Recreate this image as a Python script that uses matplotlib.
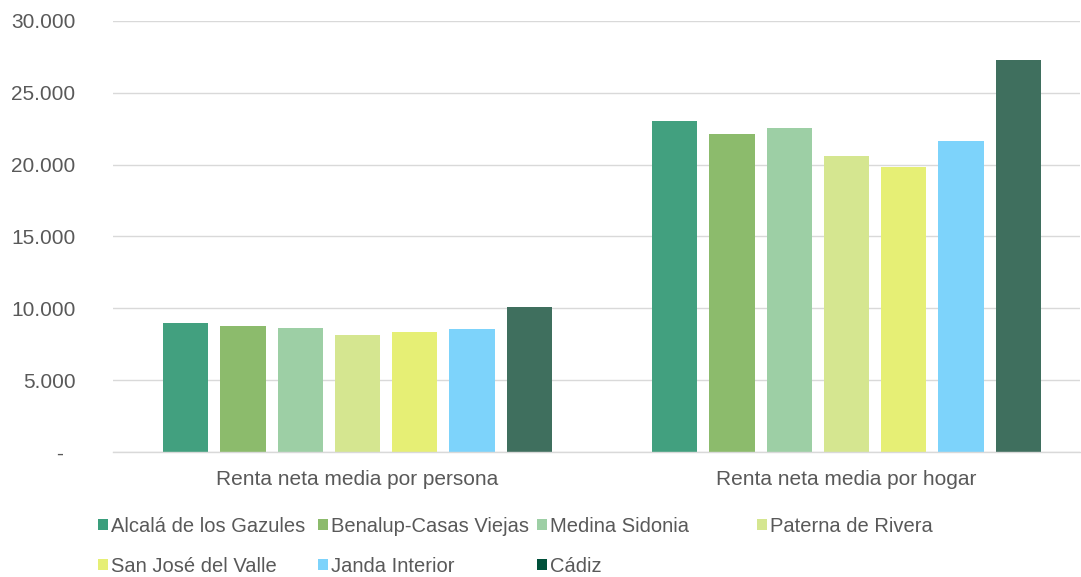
import numpy as np
import matplotlib

matplotlib.use("Agg")
import matplotlib.pyplot as plt
from matplotlib.ticker import FuncFormatter, MultipleLocator

plt.rcParams["font.family"] = ["Liberation Sans", "DejaVu Sans"]

# Data
categories = ["Renta neta media por persona", "Renta neta media por hogar"]
series_names = [
    "Alcalá de los Gazules",
    "Benalup-Casas Viejas",
    "Medina Sidonia",
    "Paterna de Rivera",
    "San José del Valle",
    "Janda Interior",
    "Cádiz",
]
alcala = [8960, 23060]
benalup = [8790, 22110]
medina = [8610, 22550]
paterna = [8170, 20600]
san_jose = [8350, 19840]
janda = [8560, 21620]
cadiz = [10110, 27280]
series_values = [alcala, benalup, medina, paterna, san_jose, janda, cadiz]

bar_colors = ["#42a07f", "#8cbb6c", "#9dcfa5", "#d5e690", "#e6ef75", "#7dd3fb", "#3f6f5e"]
legend_colors = ["#3a9e7c", "#8cbb6c", "#9dcfa5", "#d5e690", "#e6ef75", "#7dd3fb", "#00503a"]

TEXT = "#595959"
GRID = "#d9d9d9"
W, H = 1081, 577

fig = plt.figure(figsize=(W / 100, H / 100), dpi=100)
ax = fig.add_axes([113 / W, 1 - 452 / H, (1080 - 113) / W, (452 - 21) / H])

x = np.arange(len(categories))
slot = 0.1172
width = 0.0926
n = len(series_values)
bars = []
for i, (vals, col) in enumerate(zip(series_values, bar_colors)):
    offs = (i - (n - 1) / 2) * slot
    b = ax.bar(x + offs, vals, width, color=col, zorder=2, label=series_names[i])
    bars.append(b)

ax.set_xlim(-0.5, 1.4775)
ax.set_ylim(0, 30000)
ax.yaxis.set_major_locator(MultipleLocator(5000))


def fmt(v, _):
    if v == 0:
        return "-  "
    return f"{int(v):,}".replace(",", ".")


ax.yaxis.set_major_formatter(FuncFormatter(fmt))
ax.set_xticks(x)
ax.set_xticklabels(categories)
ax.tick_params(axis="y", length=0, pad=27, labelsize=15, labelcolor=TEXT)
ax.tick_params(axis="x", length=0, pad=13, labelsize=15, labelcolor=TEXT)

ax.grid(axis="y", color=GRID, linewidth=1.0, zorder=0)
ax.set_axisbelow(True)
for s in ["top", "right", "left"]:
    ax.spines[s].set_visible(False)
ax.spines["bottom"].set_color(GRID)
ax.spines["bottom"].set_linewidth(1.0)
ax.spines["bottom"].set_zorder(3)

# Legend laid out on a uniform 4-column grid like the original
col_x = [98, 318, 537, 757]
row_y = [526, 566]
for i, b in enumerate(bars):
    r, c = divmod(i, 4)
    leg = fig.legend(
        [b], [series_names[i]],
        loc="center left",
        bbox_to_anchor=(col_x[c] / W, 1 - row_y[r] / H),
        frameon=False, fontsize=14.5,
        handlelength=0.5, handleheight=0.5, handletextpad=0.15,
        borderpad=0, borderaxespad=0,
    )
    for t in leg.get_texts():
        t.set_color(TEXT)
    for h in leg.legend_handles:
        h.set_facecolor(legend_colors[i])
        h.set_edgecolor("none")

fig.savefig("out.png", dpi=100)
